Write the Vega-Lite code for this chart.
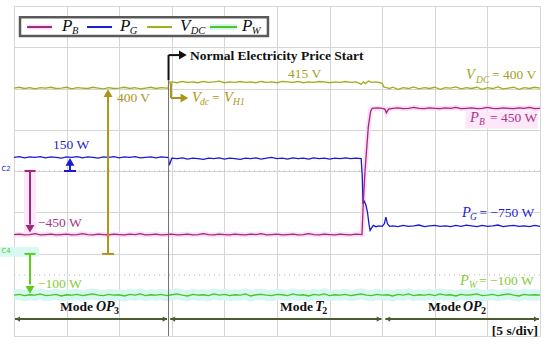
{
"$schema":"https://vega.github.io/schema/vega-lite/v6.json",
"width":526,"height":330,"autosize":"none",
"padding":{"left":14,"top":6,"right":10,"bottom":14},
"background":"white",
"config":{"view":{"stroke":"#cfcfcf","strokeWidth":1},
"axis":{"grid":true,"gridColor":"#d6d6d6","gridWidth":1,"labels":false,"ticks":false,"domain":false,"titleOpacity":0},
"text":{"font":"Liberation Serif"}},
"datasets":{
"tr":[
{"s":"V","t":0,"v":6.01},{"s":"V","t":0.5,"v":6.03},{"s":"V","t":1,"v":6.0},{"s":"V","t":1.5,"v":6.02},{"s":"V","t":2,"v":5.99},{"s":"V","t":2.5,"v":6.02},{"s":"V","t":3,"v":6.01},{"s":"V","t":3.5,"v":6.03},{"s":"V","t":4,"v":6.0},{"s":"V","t":4.5,"v":6.01},{"s":"V","t":5,"v":6.03},{"s":"V","t":5.5,"v":5.99},{"s":"V","t":6,"v":6.02},{"s":"V","t":6.5,"v":6.01},{"s":"V","t":7,"v":6.0},{"s":"V","t":7.5,"v":6.03},{"s":"V","t":8,"v":6.01},{"s":"V","t":8.5,"v":5.99},{"s":"V","t":9,"v":6.02},{"s":"V","t":9.5,"v":6.0},{"s":"V","t":10,"v":6.01},{"s":"V","t":10.5,"v":6.03},{"s":"V","t":11,"v":6.0},{"s":"V","t":11.5,"v":6.02},{"s":"V","t":12,"v":5.99},{"s":"V","t":12.5,"v":6.01},{"s":"V","t":13,"v":6.03},{"s":"V","t":13.5,"v":6.0},{"s":"V","t":14,"v":6.02},{"s":"V","t":14.5,"v":6.01},{"s":"V","t":14.65,"v":6.01},{"s":"V","t":14.72,"v":6.15},
{"s":"V","t":15,"v":6.16},{"s":"V","t":15.5,"v":6.14},{"s":"V","t":16,"v":6.17},{"s":"V","t":16.5,"v":6.15},{"s":"V","t":17,"v":6.16},{"s":"V","t":17.5,"v":6.14},{"s":"V","t":18,"v":6.17},{"s":"V","t":18.5,"v":6.15},{"s":"V","t":19,"v":6.16},{"s":"V","t":19.5,"v":6.18},{"s":"V","t":20,"v":6.14},{"s":"V","t":20.5,"v":6.16},{"s":"V","t":21,"v":6.15},{"s":"V","t":21.5,"v":6.17},{"s":"V","t":22,"v":6.15},{"s":"V","t":22.5,"v":6.16},{"s":"V","t":23,"v":6.14},{"s":"V","t":23.5,"v":6.17},{"s":"V","t":24,"v":6.15},{"s":"V","t":24.5,"v":6.16},{"s":"V","t":25,"v":6.14},{"s":"V","t":25.5,"v":6.17},{"s":"V","t":26,"v":6.16},{"s":"V","t":26.5,"v":6.15},{"s":"V","t":27,"v":6.17},{"s":"V","t":27.5,"v":6.14},{"s":"V","t":28,"v":6.16},{"s":"V","t":28.5,"v":6.15},{"s":"V","t":29,"v":6.17},{"s":"V","t":29.5,"v":6.16},{"s":"V","t":30,"v":6.14},{"s":"V","t":30.5,"v":6.16},{"s":"V","t":31,"v":6.15},{"s":"V","t":31.5,"v":6.17},{"s":"V","t":32,"v":6.15},{"s":"V","t":32.5,"v":6.16},{"s":"V","t":32.8,"v":6.13},{"s":"V","t":33,"v":6.1},{"s":"V","t":33.2,"v":6.16},{"s":"V","t":33.4,"v":6.12},{"s":"V","t":33.7,"v":6.18},{"s":"V","t":34,"v":6.15},{"s":"V","t":34.4,"v":6.16},{"s":"V","t":34.8,"v":6.14},{"s":"V","t":35,"v":6.12},{"s":"V","t":35.15,"v":6.04},{"s":"V","t":35.4,"v":6.02},{"s":"V","t":35.7,"v":6.0},{"s":"V","t":36,"v":6.03},{"s":"V","t":36.5,"v":5.98},{"s":"V","t":37,"v":6.02},{"s":"V","t":37.5,"v":6.0},{"s":"V","t":38,"v":6.04},{"s":"V","t":38.5,"v":5.99},{"s":"V","t":39,"v":6.02},{"s":"V","t":39.5,"v":6.0},{"s":"V","t":40,"v":6.03},{"s":"V","t":40.5,"v":5.98},{"s":"V","t":41,"v":6.02},{"s":"V","t":41.5,"v":6.01},{"s":"V","t":42,"v":6.04},{"s":"V","t":42.5,"v":5.99},{"s":"V","t":43,"v":6.02},{"s":"V","t":43.5,"v":6.0},{"s":"V","t":44,"v":6.03},{"s":"V","t":44.5,"v":5.98},{"s":"V","t":45,"v":6.02},{"s":"V","t":45.5,"v":6.0},{"s":"V","t":46,"v":6.04},{"s":"V","t":46.5,"v":5.99},{"s":"V","t":47,"v":6.01},{"s":"V","t":47.5,"v":6.03},{"s":"V","t":48,"v":5.98},{"s":"V","t":48.5,"v":6.02},{"s":"V","t":49,"v":6.0},{"s":"V","t":49.5,"v":6.03},{"s":"V","t":50,"v":6.01},
{"s":"G","t":0,"v":4.33},{"s":"G","t":0.5,"v":4.35},{"s":"G","t":1,"v":4.32},{"s":"G","t":1.5,"v":4.34},{"s":"G","t":2,"v":4.33},{"s":"G","t":2.5,"v":4.35},{"s":"G","t":3,"v":4.32},{"s":"G","t":3.5,"v":4.34},{"s":"G","t":4,"v":4.33},{"s":"G","t":4.5,"v":4.31},{"s":"G","t":5,"v":4.34},{"s":"G","t":5.5,"v":4.33},{"s":"G","t":6,"v":4.35},{"s":"G","t":6.5,"v":4.32},{"s":"G","t":7,"v":4.34},{"s":"G","t":7.5,"v":4.33},{"s":"G","t":8,"v":4.31},{"s":"G","t":8.5,"v":4.34},{"s":"G","t":9,"v":4.33},{"s":"G","t":9.5,"v":4.35},{"s":"G","t":10,"v":4.32},{"s":"G","t":10.5,"v":4.34},{"s":"G","t":11,"v":4.33},{"s":"G","t":11.5,"v":4.35},{"s":"G","t":12,"v":4.32},{"s":"G","t":12.5,"v":4.33},{"s":"G","t":13,"v":4.34},{"s":"G","t":13.5,"v":4.32},{"s":"G","t":14,"v":4.34},{"s":"G","t":14.5,"v":4.33},{"s":"G","t":14.68,"v":4.33},{"s":"G","t":14.75,"v":4.14},{"s":"G","t":14.85,"v":4.2},{"s":"G","t":15,"v":4.31},{"s":"G","t":15.5,"v":4.3},{"s":"G","t":16,"v":4.32},{"s":"G","t":16.5,"v":4.29},{"s":"G","t":17,"v":4.31},{"s":"G","t":17.5,"v":4.3},{"s":"G","t":18,"v":4.28},{"s":"G","t":18.5,"v":4.31},{"s":"G","t":19,"v":4.3},{"s":"G","t":19.5,"v":4.32},{"s":"G","t":20,"v":4.29},{"s":"G","t":20.5,"v":4.31},{"s":"G","t":21,"v":4.3},{"s":"G","t":21.5,"v":4.28},{"s":"G","t":22,"v":4.31},{"s":"G","t":22.5,"v":4.3},{"s":"G","t":23,"v":4.32},{"s":"G","t":23.5,"v":4.29},{"s":"G","t":24,"v":4.31},{"s":"G","t":24.5,"v":4.33},{"s":"G","t":25,"v":4.3},{"s":"G","t":25.5,"v":4.31},{"s":"G","t":26,"v":4.29},{"s":"G","t":26.5,"v":4.32},{"s":"G","t":27,"v":4.3},{"s":"G","t":27.5,"v":4.31},{"s":"G","t":28,"v":4.29},{"s":"G","t":28.5,"v":4.32},{"s":"G","t":29,"v":4.3},{"s":"G","t":29.5,"v":4.31},{"s":"G","t":30,"v":4.29},{"s":"G","t":30.5,"v":4.31},{"s":"G","t":31,"v":4.3},{"s":"G","t":31.5,"v":4.32},{"s":"G","t":32,"v":4.3},{"s":"G","t":32.5,"v":4.31},{"s":"G","t":33,"v":4.3},{"s":"G","t":33.1,"v":3.9},{"s":"G","t":33.18,"v":3.2},{"s":"G","t":33.3,"v":3.26},{"s":"G","t":33.45,"v":3.18},{"s":"G","t":33.6,"v":3.0},{"s":"G","t":33.75,"v":2.7},{"s":"G","t":33.85,"v":2.56},{"s":"G","t":34,"v":2.62},{"s":"G","t":34.15,"v":2.68},{"s":"G","t":34.4,"v":2.65},{"s":"G","t":34.7,"v":2.67},{"s":"G","t":35,"v":2.66},{"s":"G","t":35.2,"v":2.72},{"s":"G","t":35.35,"v":2.88},{"s":"G","t":35.5,"v":2.72},{"s":"G","t":35.7,"v":2.66},{"s":"G","t":36,"v":2.67},{"s":"G","t":36.5,"v":2.65},{"s":"G","t":37,"v":2.68},{"s":"G","t":37.5,"v":2.66},{"s":"G","t":38,"v":2.67},{"s":"G","t":38.5,"v":2.69},{"s":"G","t":39,"v":2.65},{"s":"G","t":39.5,"v":2.67},{"s":"G","t":40,"v":2.68},{"s":"G","t":40.5,"v":2.66},{"s":"G","t":41,"v":2.67},{"s":"G","t":41.5,"v":2.65},{"s":"G","t":42,"v":2.68},{"s":"G","t":42.5,"v":2.66},{"s":"G","t":43,"v":2.69},{"s":"G","t":43.5,"v":2.67},{"s":"G","t":44,"v":2.65},{"s":"G","t":44.5,"v":2.68},{"s":"G","t":45,"v":2.66},{"s":"G","t":45.5,"v":2.67},{"s":"G","t":46,"v":2.69},{"s":"G","t":46.5,"v":2.65},{"s":"G","t":47,"v":2.67},{"s":"G","t":47.5,"v":2.68},{"s":"G","t":48,"v":2.66},{"s":"G","t":48.5,"v":2.67},{"s":"G","t":49,"v":2.65},{"s":"G","t":49.5,"v":2.68},{"s":"G","t":50,"v":2.66},
{"s":"B","t":0,"v":2.46},{"s":"B","t":0.5,"v":2.47},{"s":"B","t":1,"v":2.45},{"s":"B","t":1.5,"v":2.46},{"s":"B","t":2,"v":2.48},{"s":"B","t":2.5,"v":2.45},{"s":"B","t":3,"v":2.46},{"s":"B","t":3.5,"v":2.47},{"s":"B","t":4,"v":2.45},{"s":"B","t":4.5,"v":2.46},{"s":"B","t":5,"v":2.47},{"s":"B","t":5.5,"v":2.45},{"s":"B","t":6,"v":2.46},{"s":"B","t":6.5,"v":2.48},{"s":"B","t":7,"v":2.46},{"s":"B","t":7.5,"v":2.45},{"s":"B","t":8,"v":2.47},{"s":"B","t":8.5,"v":2.46},{"s":"B","t":9,"v":2.45},{"s":"B","t":9.5,"v":2.47},{"s":"B","t":10,"v":2.46},{"s":"B","t":10.5,"v":2.45},{"s":"B","t":11,"v":2.47},{"s":"B","t":11.5,"v":2.46},{"s":"B","t":12,"v":2.48},{"s":"B","t":12.5,"v":2.45},{"s":"B","t":13,"v":2.46},{"s":"B","t":13.5,"v":2.47},{"s":"B","t":14,"v":2.45},{"s":"B","t":14.5,"v":2.46},{"s":"B","t":15,"v":2.47},{"s":"B","t":15.5,"v":2.45},{"s":"B","t":16,"v":2.46},{"s":"B","t":16.5,"v":2.47},{"s":"B","t":17,"v":2.45},{"s":"B","t":17.5,"v":2.46},{"s":"B","t":18,"v":2.48},{"s":"B","t":18.5,"v":2.46},{"s":"B","t":19,"v":2.45},{"s":"B","t":19.5,"v":2.47},{"s":"B","t":20,"v":2.46},{"s":"B","t":20.5,"v":2.45},{"s":"B","t":21,"v":2.47},{"s":"B","t":21.5,"v":2.46},{"s":"B","t":22,"v":2.45},{"s":"B","t":22.5,"v":2.47},{"s":"B","t":23,"v":2.46},{"s":"B","t":23.5,"v":2.48},{"s":"B","t":24,"v":2.45},{"s":"B","t":24.5,"v":2.46},{"s":"B","t":25,"v":2.47},{"s":"B","t":25.5,"v":2.45},{"s":"B","t":26,"v":2.46},{"s":"B","t":26.5,"v":2.47},{"s":"B","t":27,"v":2.45},{"s":"B","t":27.5,"v":2.46},{"s":"B","t":28,"v":2.48},{"s":"B","t":28.5,"v":2.46},{"s":"B","t":29,"v":2.45},{"s":"B","t":29.5,"v":2.47},{"s":"B","t":30,"v":2.46},{"s":"B","t":30.5,"v":2.45},{"s":"B","t":31,"v":2.47},{"s":"B","t":31.5,"v":2.46},{"s":"B","t":32,"v":2.45},{"s":"B","t":32.5,"v":2.47},{"s":"B","t":33.08,"v":2.46},{"s":"B","t":33.2,"v":3.22},{"s":"B","t":33.37,"v":4.02},{"s":"B","t":33.68,"v":5.07},{"s":"B","t":33.9,"v":5.45},{"s":"B","t":34.05,"v":5.52},{"s":"B","t":34.5,"v":5.53},{"s":"B","t":35,"v":5.52},{"s":"B","t":35.25,"v":5.5},{"s":"B","t":35.4,"v":5.41},{"s":"B","t":35.6,"v":5.5},{"s":"B","t":36,"v":5.52},{"s":"B","t":36.5,"v":5.53},{"s":"B","t":37,"v":5.51},{"s":"B","t":37.5,"v":5.52},{"s":"B","t":38,"v":5.54},{"s":"B","t":38.5,"v":5.52},{"s":"B","t":39,"v":5.51},{"s":"B","t":39.5,"v":5.53},{"s":"B","t":40,"v":5.52},{"s":"B","t":40.5,"v":5.51},{"s":"B","t":41,"v":5.53},{"s":"B","t":41.5,"v":5.52},{"s":"B","t":42,"v":5.54},{"s":"B","t":42.5,"v":5.51},{"s":"B","t":43,"v":5.52},{"s":"B","t":43.5,"v":5.53},{"s":"B","t":44,"v":5.51},{"s":"B","t":44.5,"v":5.52},{"s":"B","t":45,"v":5.54},{"s":"B","t":45.5,"v":5.52},{"s":"B","t":46,"v":5.51},{"s":"B","t":46.5,"v":5.53},{"s":"B","t":47,"v":5.52},{"s":"B","t":47.5,"v":5.51},{"s":"B","t":48,"v":5.53},{"s":"B","t":48.5,"v":5.52},{"s":"B","t":49,"v":5.54},{"s":"B","t":49.5,"v":5.51},{"s":"B","t":50,"v":5.52},
{"s":"W","t":0,"v":0.99},{"s":"W","t":0.5,"v":1.01},{"s":"W","t":1,"v":0.98},{"s":"W","t":1.5,"v":1.0},{"s":"W","t":2,"v":0.99},{"s":"W","t":2.5,"v":1.02},{"s":"W","t":3,"v":0.98},{"s":"W","t":3.5,"v":0.99},{"s":"W","t":4,"v":1.01},{"s":"W","t":4.5,"v":0.97},{"s":"W","t":5,"v":1.0},{"s":"W","t":5.5,"v":0.99},{"s":"W","t":6,"v":1.01},{"s":"W","t":6.5,"v":0.98},{"s":"W","t":7,"v":1.0},{"s":"W","t":7.5,"v":1.02},{"s":"W","t":8,"v":0.99},{"s":"W","t":8.5,"v":0.98},{"s":"W","t":9,"v":1.01},{"s":"W","t":9.5,"v":0.99},{"s":"W","t":10,"v":1.0},{"s":"W","t":10.5,"v":0.97},{"s":"W","t":11,"v":1.01},{"s":"W","t":11.5,"v":0.99},{"s":"W","t":12,"v":1.02},{"s":"W","t":12.5,"v":0.98},{"s":"W","t":13,"v":1.0},{"s":"W","t":13.5,"v":0.99},{"s":"W","t":14,"v":1.01},{"s":"W","t":14.5,"v":0.98},{"s":"W","t":15,"v":1.0},{"s":"W","t":15.5,"v":1.02},{"s":"W","t":16,"v":0.99},{"s":"W","t":16.5,"v":0.97},{"s":"W","t":17,"v":1.01},{"s":"W","t":17.5,"v":0.99},{"s":"W","t":18,"v":1.0},{"s":"W","t":18.5,"v":0.98},{"s":"W","t":19,"v":1.02},{"s":"W","t":19.5,"v":0.99},{"s":"W","t":20,"v":1.01},{"s":"W","t":20.5,"v":0.98},{"s":"W","t":21,"v":1.0},{"s":"W","t":21.5,"v":0.99},{"s":"W","t":22,"v":1.02},{"s":"W","t":22.5,"v":0.97},{"s":"W","t":23,"v":1.0},{"s":"W","t":23.5,"v":1.01},{"s":"W","t":24,"v":0.99},{"s":"W","t":24.5,"v":0.98},{"s":"W","t":25,"v":1.01},{"s":"W","t":25.5,"v":1.0},{"s":"W","t":26,"v":0.98},{"s":"W","t":26.5,"v":1.02},{"s":"W","t":27,"v":0.99},{"s":"W","t":27.5,"v":1.0},{"s":"W","t":28,"v":0.97},{"s":"W","t":28.5,"v":1.01},{"s":"W","t":29,"v":0.99},{"s":"W","t":29.5,"v":1.02},{"s":"W","t":30,"v":0.98},{"s":"W","t":30.5,"v":1.0},{"s":"W","t":31,"v":0.99},{"s":"W","t":31.5,"v":1.01},{"s":"W","t":32,"v":0.98},{"s":"W","t":32.5,"v":1.0},{"s":"W","t":33,"v":1.02},{"s":"W","t":33.5,"v":0.99},{"s":"W","t":34,"v":0.98},{"s":"W","t":34.5,"v":1.01},{"s":"W","t":35,"v":0.99},{"s":"W","t":35.5,"v":1.0},{"s":"W","t":36,"v":0.97},{"s":"W","t":36.5,"v":1.01},{"s":"W","t":37,"v":0.99},{"s":"W","t":37.5,"v":1.02},{"s":"W","t":38,"v":0.98},{"s":"W","t":38.5,"v":1.0},{"s":"W","t":39,"v":0.99},{"s":"W","t":39.5,"v":1.01},{"s":"W","t":40,"v":0.98},{"s":"W","t":40.5,"v":1.02},{"s":"W","t":41,"v":0.99},{"s":"W","t":41.5,"v":1.0},{"s":"W","t":42,"v":0.97},{"s":"W","t":42.5,"v":1.01},{"s":"W","t":43,"v":0.99},{"s":"W","t":43.5,"v":1.0},{"s":"W","t":44,"v":1.02},{"s":"W","t":44.5,"v":0.98},{"s":"W","t":45,"v":0.99},{"s":"W","t":45.5,"v":1.01},{"s":"W","t":46,"v":0.98},{"s":"W","t":46.5,"v":1.0},{"s":"W","t":47,"v":1.02},{"s":"W","t":47.5,"v":0.99},{"s":"W","t":48,"v":0.97},{"s":"W","t":48.5,"v":1.01},{"s":"W","t":49,"v":0.99},{"s":"W","t":49.5,"v":1.0},{"s":"W","t":50,"v":0.99}
]},
"layer":[
{"data":{"values":[{"t":0,"t2":50,"v":4},{"t":0,"t2":50,"v":1.48}]},
 "mark":{"type":"rule","color":"#b5b5b5","strokeDash":[1,4],"strokeWidth":1},
 "encoding":{"x":{"field":"t","type":"quantitative","scale":{"domain":[0,50],"nice":false,"zero":false},"axis":{"values":[0,5,10,15,20,25,30,35,40,45,50],"title":null}},
  "x2":{"field":"t2"},
  "y":{"field":"v","type":"quantitative","scale":{"domain":[0,8],"nice":false,"zero":false},"axis":{"values":[0,1,2,3,4,5,6,7,8],"title":null}}}},
{"data":{"values":[{"t":42.9,"t2":49.8,"v":5.03,"v2":5.45},{"t":0.95,"t2":2.1,"v":2.5,"v2":4.05}]},
 "mark":{"type":"rect","color":"#fde7f8"},
 "encoding":{"x":{"field":"t","type":"quantitative"},"x2":{"field":"t2"},"y":{"field":"v","type":"quantitative"},"y2":{"field":"v2"}}},
{"data":{"values":[{"t":-1.33,"t2":2.38,"v":1.92,"v2":2.16}]},
 "mark":{"type":"rect","color":"#d8f8f3"},
 "encoding":{"x":{"field":"t","type":"quantitative"},"x2":{"field":"t2"},"y":{"field":"v","type":"quantitative"},"y2":{"field":"v2"}}},
{"data":{"name":"tr"},"transform":[{"filter":"datum.s === 'B'"}],
 "mark":{"type":"line","color":"#fcdff6","strokeWidth":5},
 "encoding":{"x":{"field":"t","type":"quantitative"},"y":{"field":"v","type":"quantitative"}}},
{"data":{"name":"tr"},"transform":[{"filter":"datum.s === 'W'"}],
 "mark":{"type":"line","color":"#d4f7f1","strokeWidth":11},
 "encoding":{"x":{"field":"t","type":"quantitative"},"y":{"field":"v","type":"quantitative"}}},
{"data":{"name":"tr"},
 "mark":{"type":"line","strokeWidth":1.3},
 "encoding":{"x":{"field":"t","type":"quantitative"},"y":{"field":"v","type":"quantitative"},
  "color":{"field":"s","type":"nominal","legend":null,"scale":{"domain":["B","G","V","W","Bt","Gt","Vt","Wt","Va","K","M","A"],"range":["#a2287c","#1a1ad2","#a3ad1c","#4ec41c","#a8368a","#1e1ed0","#a5a21e","#86cc36","#ad9418","#111111","#4b5c30","#5ccc1e"]}}}},
{"data":{"values":[{"t":14.69,"v":0,"v2":6.2}]},
 "mark":{"type":"rule","color":"#707070","strokeWidth":1},
 "encoding":{"x":{"field":"t","type":"quantitative"},"y":{"field":"v","type":"quantitative"},"y2":{"field":"v2"}}},
{"data":{"values":[
 {"g":"K","t":14.69,"t2":14.69,"v":6.2,"v2":6.81},{"g":"K","t":14.69,"t2":15.9,"v":6.81,"v2":6.81},
 {"g":"Va","t":8.94,"t2":8.94,"v":1.99,"v2":5.85},{"g":"Va","t":8.37,"t2":9.51,"v":1.99,"v2":1.99},
 {"g":"Va","t":14.92,"t2":14.92,"v":6.13,"v2":5.77},{"g":"Va","t":14.92,"t2":16.0,"v":5.77,"v2":5.77},
 {"g":"G","t":5.32,"t2":5.32,"v":4.0,"v2":4.2},{"g":"G","t":4.75,"t2":5.9,"v":4.0,"v2":4.0},
 {"g":"B","t":1.52,"t2":1.52,"v":4.0,"v2":2.7},{"g":"B","t":1.0,"t2":2.05,"v":4.0,"v2":4.0},
 {"g":"A","t":1.52,"t2":1.52,"v":1.99,"v2":1.25},{"g":"A","t":1.0,"t2":2.05,"v":1.99,"v2":1.99},
 {"g":"M","t":0.1,"t2":14.55,"v":0.41,"v2":0.41},{"g":"M","t":14.85,"t2":34.93,"v":0.41,"v2":0.41},{"g":"M","t":35.3,"t2":49.9,"v":0.41,"v2":0.41}]},
 "mark":{"type":"rule","strokeWidth":2},
 "encoding":{"x":{"field":"t","type":"quantitative"},"x2":{"field":"t2"},"y":{"field":"v","type":"quantitative"},"y2":{"field":"v2"},"color":{"field":"g","type":"nominal","legend":null}}},
{"data":{"values":[
 {"g":"K","d":"right","t":16.05,"v":6.81},
 {"g":"Va","d":"up","t":8.94,"v":5.89},{"g":"Va","d":"right","t":16.2,"v":5.77},
 {"g":"G","d":"up","t":5.32,"v":4.22},{"g":"B","d":"down","t":1.52,"v":2.6},{"g":"A","d":"down","t":1.52,"v":1.12}]},
 "mark":{"type":"point","filled":true,"opacity":1,"size":80},
 "encoding":{"x":{"field":"t","type":"quantitative"},"y":{"field":"v","type":"quantitative"},"color":{"field":"g","type":"nominal","legend":null},
  "shape":{"field":"d","type":"nominal","legend":null,"scale":{"domain":["up","down","left","right"],"range":["triangle-up","triangle-down","triangle-left","triangle-right"]}}}},
{"data":{"values":[
 {"g":"M","d":"left","t":0.35,"v":0.41},{"g":"M","d":"right","t":14.35,"v":0.41},{"g":"M","d":"left","t":15.1,"v":0.41},{"g":"M","d":"right","t":34.7,"v":0.41},{"g":"M","d":"left","t":35.55,"v":0.41},{"g":"M","d":"right","t":49.65,"v":0.41}]},
 "mark":{"type":"point","filled":true,"opacity":1,"size":28},
 "encoding":{"x":{"field":"t","type":"quantitative"},"y":{"field":"v","type":"quantitative"},"color":{"field":"g","type":"nominal","legend":null},
  "shape":{"field":"d","type":"nominal","legend":null}}},
{"data":{"values":[
 {"g":"Va","x":"400 V","t":9.79,"v":5.77},{"g":"Gt","x":"150 W","t":3.71,"v":4.63},{"g":"Bt","x":"−450 W","t":2.28,"v":2.74},{"g":"Wt","x":"−100 W","t":2.28,"v":1.26},
 {"g":"Vt","x":"415 V","t":26.05,"v":6.35},{"g":"Vt","x":"= 400 V","t":45.44,"v":6.33},{"g":"Bt","x":"= 450 W","t":45.25,"v":5.28},{"g":"Gt","x":"= −750 W","t":44.25,"v":2.98},{"g":"Wt","x":"= −100 W","t":44.2,"v":1.33},{"g":"Va","x":"=","t":18.82,"v":5.77}]},
 "mark":{"type":"text","align":"left","baseline":"middle","fontSize":13.5},
 "encoding":{"x":{"field":"t","type":"quantitative"},"y":{"field":"v","type":"quantitative"},"text":{"field":"x"},"color":{"field":"g","type":"nominal","legend":null}}},
{"data":{"values":[
 {"g":"Vt","x":"V","t":42.97,"v":6.33},{"g":"Bt","x":"P","t":43.35,"v":5.28},{"g":"Gt","x":"P","t":42.59,"v":2.98},{"g":"Wt","x":"P","t":42.4,"v":1.33},{"g":"Va","x":"V","t":16.92,"v":5.77},{"g":"Va","x":"V","t":19.96,"v":5.77}]},
 "mark":{"type":"text","align":"left","baseline":"middle","fontSize":14.5,"fontStyle":"italic"},
 "encoding":{"x":{"field":"t","type":"quantitative"},"y":{"field":"v","type":"quantitative"},"text":{"field":"x"},"color":{"field":"g","type":"nominal","legend":null}}},
{"data":{"values":[
 {"g":"Vt","x":"DC","t":43.92,"v":6.21},{"g":"Bt","x":"B","t":44.2,"v":5.19},{"g":"Gt","x":"G","t":43.35,"v":2.88},{"g":"Wt","x":"W","t":43.25,"v":1.24},{"g":"Va","x":"dc","t":17.68,"v":5.67},{"g":"Va","x":"H1","t":20.82,"v":5.67}]},
 "mark":{"type":"text","align":"left","baseline":"middle","fontSize":9.5,"fontStyle":"italic"},
 "encoding":{"x":{"field":"t","type":"quantitative"},"y":{"field":"v","type":"quantitative"},"text":{"field":"x"},"color":{"field":"g","type":"nominal","legend":null}}},
{"data":{"values":[
 {"x":"Normal Electricity Price Start","t":16.73,"v":6.79},{"x":"Mode","t":4.37,"v":0.7},{"x":"Mode","t":25.29,"v":0.7},{"x":"Mode","t":39.35,"v":0.7}]},
 "mark":{"type":"text","align":"left","baseline":"middle","fontSize":13.5,"fontWeight":"bold","color":"#111111"},
 "encoding":{"x":{"field":"t","type":"quantitative"},"y":{"field":"v","type":"quantitative"},"text":{"field":"x"}}},
{"data":{"values":[{"x":"OP","t":7.79,"v":0.7},{"x":"T","t":28.61,"v":0.7},{"x":"OP","t":42.68,"v":0.7}]},
 "mark":{"type":"text","align":"left","baseline":"middle","fontSize":14,"fontWeight":"bold","fontStyle":"italic","color":"#111111"},
 "encoding":{"x":{"field":"t","type":"quantitative"},"y":{"field":"v","type":"quantitative"},"text":{"field":"x"}}},
{"data":{"values":[{"x":"3","t":9.5,"v":0.6},{"x":"2","t":29.3,"v":0.6},{"x":"2","t":44.4,"v":0.6}]},
 "mark":{"type":"text","align":"left","baseline":"middle","fontSize":10,"fontWeight":"bold","color":"#111111"},
 "encoding":{"x":{"field":"t","type":"quantitative"},"y":{"field":"v","type":"quantitative"},"text":{"field":"x"}}},
{"data":{"values":[{"x":"[5 s/div]","t":49.81,"v":0.13}]},
 "mark":{"type":"text","align":"right","baseline":"middle","fontSize":13.5,"fontWeight":"bold","color":"#111111"},
 "encoding":{"x":{"field":"t","type":"quantitative"},"y":{"field":"v","type":"quantitative"},"text":{"field":"x"}}},
{"data":{"values":[{"g":"Gt","x":"C2","t":-0.75,"v":4.04},{"g":"A","x":"C4","t":-0.75,"v":2.06}]},
 "mark":{"type":"text","align":"center","baseline":"middle","fontSize":7,"font":"DejaVu Sans"},
 "encoding":{"x":{"field":"t","type":"quantitative"},"y":{"field":"v","type":"quantitative"},"text":{"field":"x"},"color":{"field":"g","type":"nominal","legend":null}}},
{"data":{"values":[{"t":0.57,"t2":24.14,"v":7.27,"v2":7.73}]},
 "mark":{"type":"rect","fill":"white","stroke":"#5a5a5a","strokeWidth":2.5},
 "encoding":{"x":{"field":"t","type":"quantitative"},"x2":{"field":"t2"},"y":{"field":"v","type":"quantitative"},"y2":{"field":"v2"}}},
{"data":{"values":[{"t":1.24,"t2":3.61,"v":7.49}]},
 "mark":{"type":"rule","color":"#fcdff6","strokeWidth":5},
 "encoding":{"x":{"field":"t","type":"quantitative"},"x2":{"field":"t2"},"y":{"field":"v","type":"quantitative"}}},
{"data":{"values":[{"t":18.63,"t2":21.2,"v":7.49}]},
 "mark":{"type":"rule","color":"#d4f7f1","strokeWidth":6},
 "encoding":{"x":{"field":"t","type":"quantitative"},"x2":{"field":"t2"},"y":{"field":"v","type":"quantitative"}}},
{"data":{"values":[{"g":"B","t":1.24,"t2":3.61,"v":7.49},{"g":"G","t":6.94,"t2":9.32,"v":7.49},{"g":"V","t":12.64,"t2":15.02,"v":7.49},{"g":"W","t":18.63,"t2":21.2,"v":7.49}]},
 "mark":{"type":"rule","strokeWidth":2},
 "encoding":{"x":{"field":"t","type":"quantitative"},"x2":{"field":"t2"},"y":{"field":"v","type":"quantitative"},"color":{"field":"g","type":"nominal","legend":null}}},
{"data":{"values":[{"x":"P","t":4.56,"v":7.51},{"x":"P","t":10.08,"v":7.51},{"x":"V","t":15.78,"v":7.51},{"x":"P","t":21.67,"v":7.51}]},
 "mark":{"type":"text","align":"left","baseline":"middle","fontSize":17,"fontStyle":"italic","color":"#111111"},
 "encoding":{"x":{"field":"t","type":"quantitative"},"y":{"field":"v","type":"quantitative"},"text":{"field":"x"}}},
{"data":{"values":[{"x":"B","t":5.51,"v":7.4},{"x":"G","t":11.0,"v":7.4},{"x":"DC","t":16.8,"v":7.4},{"x":"W","t":22.6,"v":7.4}]},
 "mark":{"type":"text","align":"left","baseline":"middle","fontSize":10.5,"fontStyle":"italic","color":"#111111"},
 "encoding":{"x":{"field":"t","type":"quantitative"},"y":{"field":"v","type":"quantitative"},"text":{"field":"x"}}}
]
}
